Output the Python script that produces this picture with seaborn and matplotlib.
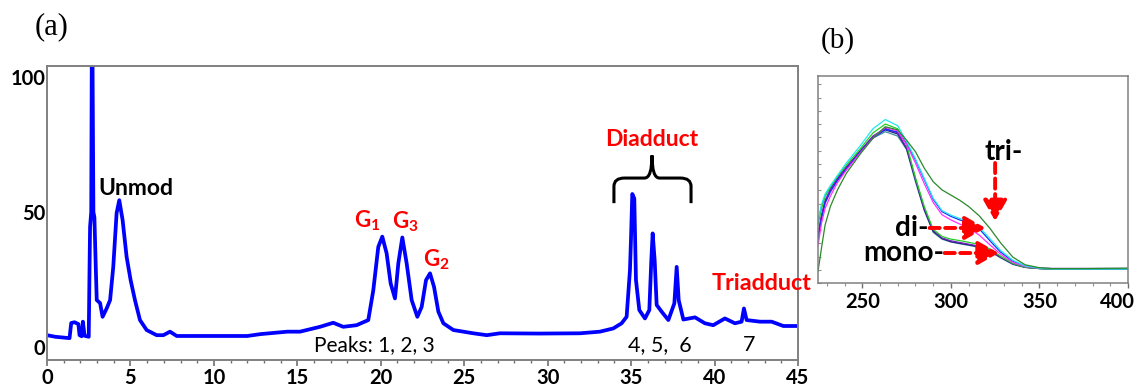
import numpy as np
import pandas as pd
import matplotlib
matplotlib.use("Agg")
import matplotlib.pyplot as plt
from matplotlib.path import Path
from matplotlib.patches import PathPatch
from matplotlib.ticker import MultipleLocator, NullFormatter
from matplotlib.transforms import ScaledTranslation
import seaborn as sns

# (a) chromatogram: retention time (min) vs absorbance (% of max)
rt = [0.0, 0.5, 1.35, 1.45, 1.65, 1.88, 1.95, 2.08, 2.15, 2.25, 2.5, 2.55, 2.58,
      2.65, 2.68, 2.73, 2.78, 2.84, 2.92, 2.98, 3.18, 3.33, 3.58, 3.78, 3.97,
      4.17, 4.33, 4.53, 4.77, 5.01, 5.27, 5.57, 5.97, 6.57, 6.97, 7.37, 7.77,
      12.0, 12.8, 14.4, 15.16, 16.36, 17.15, 17.75, 18.55, 19.25, 19.55, 19.85,
      20.09, 20.35, 20.59, 20.85, 21.05, 21.29, 21.55, 21.85, 22.19, 22.45,
      22.71, 22.95, 23.19, 23.45, 23.75, 24.35, 25.54, 26.35, 27.14, 29.5,
      31.94, 33.13, 33.93, 34.43, 34.73, 34.93, 34.99, 35.07, 35.19, 35.29,
      35.49, 35.83, 36.09, 36.21, 36.29, 36.41, 36.53, 36.83, 37.23, 37.59,
      37.73, 37.85, 38.13, 38.83, 39.42, 39.92, 40.62, 41.22, 41.62, 41.76,
      41.92, 42.72, 43.42, 44.12, 45.0]
absorb = [4.4, 3.8, 3.3, 8.9, 9.2, 8.5, 4.4, 4.0, 9.4, 4.2, 3.8, 30.0, 44.5,
          50.0, 104.0, 104.0, 50.0, 48.0, 30.0, 17.4, 16.3, 11.2, 14.4, 17.4, 29.7,
          49.6, 54.4, 47.0, 33.4, 24.8, 17.4, 10.0, 6.3, 4.4, 4.4, 5.7, 4.1,
          4.1, 4.8, 5.7, 5.7, 7.5, 9.0, 7.5, 8.1, 10.0, 21.0, 37.1,
          40.9, 34.7, 23.6, 18.0, 31.0, 40.6, 31.0, 17.4, 11.2, 14.9,
          24.8, 27.3, 22.3, 13.1, 8.8, 6.3, 5.1, 4.4, 5.1, 5.0,
          5.1, 5.7, 6.9, 8.8, 11.2, 28.5, 39.6, 56.7, 55.0, 24.8,
          13.7, 10.6, 13.7, 32.2, 42.1, 32.2, 15.6, 13.1, 10.0, 16.2,
          29.7, 17.4, 10.2, 11.0, 8.8, 8.1, 10.6, 8.8, 9.4, 14.3,
          10.0, 9.4, 9.4, 7.8, 7.8]

x_ticks_a = [0, 5, 10, 15, 20, 25, 30, 35, 40, 45]
y_ticks_a = [0, 50, 100]

# (b) UV spectra of the peaks: wavelength (nm) vs normalised absorbance
wl = [225, 227, 229, 232, 236, 241, 249, 256, 263, 270, 275, 280, 285, 290,
      295, 300, 305, 310, 316, 322, 328, 335, 342, 350, 357, 375, 400]
mono_teal = [0.30, 0.37, 0.42, 0.46, 0.51, 0.56, 0.635, 0.70, 0.731, 0.71, 0.645,
             0.49, 0.35, 0.245, 0.212, 0.198, 0.19, 0.182, 0.172, 0.152, 0.122,
             0.09, 0.075, 0.07, 0.068, 0.068, 0.068]
mono_navy = [0.22, 0.32, 0.39, 0.45, 0.50, 0.555, 0.64, 0.705, 0.74, 0.72, 0.65,
             0.50, 0.355, 0.25, 0.215, 0.2, 0.192, 0.185, 0.175, 0.155, 0.125,
             0.092, 0.076, 0.07, 0.068, 0.068, 0.068]
mono_lime = [0.28, 0.36, 0.42, 0.465, 0.515, 0.57, 0.65, 0.725, 0.768, 0.745, 0.67,
             0.51, 0.37, 0.26, 0.225, 0.212, 0.205, 0.197, 0.186, 0.165, 0.13,
             0.095, 0.077, 0.07, 0.068, 0.068, 0.068]
mono_purple = [0.24, 0.33, 0.40, 0.45, 0.505, 0.56, 0.64, 0.71, 0.748, 0.725, 0.655,
               0.505, 0.36, 0.255, 0.218, 0.204, 0.196, 0.188, 0.178, 0.158, 0.127,
               0.093, 0.076, 0.07, 0.068, 0.068, 0.068]
di_blue = [0.21, 0.31, 0.385, 0.44, 0.495, 0.55, 0.635, 0.70, 0.742, 0.73, 0.675,
           0.595, 0.50, 0.405, 0.345, 0.322, 0.305, 0.292, 0.262, 0.205, 0.15,
           0.105, 0.082, 0.072, 0.07, 0.07, 0.07]
di_magenta = [0.18, 0.29, 0.36, 0.42, 0.485, 0.545, 0.63, 0.70, 0.752, 0.735, 0.67,
              0.58, 0.48, 0.39, 0.33, 0.305, 0.285, 0.265, 0.232, 0.185, 0.14,
              0.10, 0.08, 0.072, 0.07, 0.07, 0.07]
di_cyan = [0.30, 0.38, 0.43, 0.47, 0.52, 0.58, 0.665, 0.745, 0.79, 0.76, 0.685,
           0.60, 0.505, 0.41, 0.35, 0.328, 0.312, 0.298, 0.27, 0.215, 0.158,
           0.11, 0.083, 0.072, 0.068, 0.068, 0.068]
tri_green = [0.055, 0.17, 0.28, 0.37, 0.45, 0.53, 0.625, 0.70, 0.755, 0.74, 0.69,
             0.635, 0.555, 0.49, 0.45, 0.425, 0.40, 0.37, 0.325, 0.265, 0.195,
             0.125, 0.088, 0.074, 0.07, 0.07, 0.072]

traces = {
    "mono_teal": (mono_teal, "#3f8f96"),
    "mono_navy": (mono_navy, "#1a1a80"),
    "mono_purple": (mono_purple, "#7a20c0"),
    "mono_lime": (mono_lime, "#22d022"),
    "di_blue": (di_blue, "#1030ff"),
    "di_magenta": (di_magenta, "#ff30ff"),
    "di_cyan": (di_cyan, "#20e8f0"),
    "tri_green": (tri_green, "#2a8a2a"),
}
x_ticks_b = [250, 300, 350, 400]

sns.set_style("white")
plt.rcParams["font.family"] = ["Lato", "DejaVu Sans"]
plt.rcParams["mathtext.fontset"] = "custom"
plt.rcParams["mathtext.rm"] = "Lato"
plt.rcParams["mathtext.bf"] = "Lato:bold"
plt.rcParams["text.color"] = "black"
plt.rcParams["xtick.labelcolor"] = "black"
plt.rcParams["ytick.labelcolor"] = "black"

fig = plt.figure(figsize=(11.41, 3.92), dpi=100)
ax = fig.add_axes([0.0412, 0.0816, 0.6582, 0.75])
axb = fig.add_axes([0.7169, 0.278, 0.2717, 0.528])

# ---- panel (a)
sns.lineplot(x=rt, y=absorb, ax=ax, sort=False, estimator=None, color="#0000ff", lw=2.7)
ax.set_xlim(0, 45)
ax.set_ylim(-4.8, 104.1)
ax.set_xticks(x_ticks_a)
ax.set_xticklabels([str(t) for t in x_ticks_a], fontweight="bold", fontsize=14.5)
ax.xaxis.set_minor_locator(MultipleLocator(1))
ax.set_yticks(y_ticks_a)
ax.set_yticklabels([str(t) for t in y_ticks_a], fontweight="bold", fontsize=14.5)
ax.tick_params(axis="x", which="major", direction="out", length=4, width=1.2,
               color="#707070", labelcolor="black", pad=2, bottom=True)
ax.tick_params(axis="x", which="minor", direction="out", length=2.5, width=1,
               color="#707070", bottom=True)
ax.tick_params(axis="y", length=0, pad=1, labelcolor="black")
for s in ax.spines.values():
    s.set_color("#808080")
    s.set_linewidth(1.4)
ax.set_xlabel("")
ax.set_ylabel("")

ax.text(5.3, 58.9, "Unmod", fontsize=16.5, fontweight="bold", ha="center", va="center")
ax.text(18.4, 46.8, r"G$_\mathbf{1}$", color="red", fontsize=16, fontweight="bold",
        ha="left", va="center")
ax.text(20.7, 46.3, r"G$_\mathbf{3}$", color="red", fontsize=16, fontweight="bold",
        ha="left", va="center")
ax.text(22.55, 32.2, r"G$_\mathbf{2}$", color="red", fontsize=16, fontweight="bold",
        ha="left", va="center")
ax.text(36.25, 76.7, "Diadduct", color="red", fontsize=16.5, fontweight="bold",
        ha="center", va="center")
ax.text(42.8, 23.7, "Triadduct", color="red", fontsize=16.8, fontweight="bold",
        ha="center", va="center")
ax.text(19.6, 0.7, "Peaks: 1, 2, 3", fontsize=15, ha="center", va="center")
ax.text(36.7, 0.7, "4, 5,  6", fontsize=15.5, ha="center", va="center")
ax.text(42.1, 0.7, "7", fontsize=15.5, ha="center", va="center")

# curly brace over the diadduct peaks
brace = Path(
    [(33.97, 53.3), (33.97, 59.5), (33.97, 62.6), (34.6, 62.6), (35.8, 62.6),
     (36.25, 62.6), (36.25, 71.0), (36.25, 62.6), (36.7, 62.6), (37.95, 62.6),
     (38.59, 62.6), (38.59, 59.5), (38.59, 53.3)],
    [Path.MOVETO, Path.LINETO, Path.CURVE3, Path.CURVE3, Path.LINETO,
     Path.CURVE3, Path.CURVE3, Path.CURVE3, Path.CURVE3, Path.LINETO,
     Path.CURVE3, Path.CURVE3, Path.LINETO])
ax.add_patch(PathPatch(brace, fill=False, lw=2.2, color="black", capstyle="butt"))

# ---- panel (b)
rows = []
for name, (vals, col) in traces.items():
    for w, v in zip(wl, vals):
        rows.append({"wl": w, "abs": v, "trace": name})
spec = pd.DataFrame(rows)
palette = {name: col for name, (vals, col) in traces.items()}
sns.lineplot(data=spec, x="wl", y="abs", hue="trace", palette=palette, ax=axb,
             sort=False, estimator=None, lw=0.9, legend=False)
axb.set_xlim(225, 400)
axb.set_ylim(0, 1)
axb.set_xticks(x_ticks_b)
axb.set_xticklabels([str(t) for t in x_ticks_b], fontweight="bold", fontsize=14.5)
axb.xaxis.set_minor_locator(MultipleLocator(10))
axb.yaxis.set_major_locator(MultipleLocator(0.064))
axb.yaxis.set_major_formatter(NullFormatter())
axb.tick_params(axis="x", which="major", direction="out", length=3.5, width=1,
                color="#707070", labelcolor="black", pad=3, bottom=True)
axb.tick_params(axis="x", which="minor", direction="out", length=2.2, width=0.8,
                color="#909090", bottom=True)
axb.tick_params(axis="y", which="major", direction="in", length=2, width=0.8,
                color="#909090", left=True)
for s in axb.spines.values():
    s.set_color("#808080")
    s.set_linewidth(1.1)
axb.set_xlabel("")
axb.set_ylabel("")
# last label sits a little inside the figure edge
last = axb.get_xticklabels()[-1]
last.set_ha("right")
last.set_transform(last.get_transform() + ScaledTranslation(0.07, 0, fig.dpi_scale_trans))

axb.text(330, 0.633, "tri-", fontsize=20, fontweight="bold", ha="center", va="center")
axb.text(287.5, 0.266, "di-", fontsize=20, fontweight="bold", ha="right", va="center")
axb.text(296, 0.145, "mono-", fontsize=20, fontweight="bold", ha="right", va="center")
arrow_kw = dict(arrowstyle="-|>,head_length=0.7,head_width=0.4", color="red", lw=2.8,
                linestyle=(0, (2.6, 1.4)), mutation_scale=18, shrinkA=0, shrinkB=0)
axb.annotate("", xy=(325, 0.30), xytext=(325, 0.58), arrowprops=arrow_kw)
axb.annotate("", xy=(319.5, 0.266), xytext=(288, 0.266), arrowprops=arrow_kw)
axb.annotate("", xy=(327, 0.145), xytext=(296.5, 0.145), arrowprops=arrow_kw)

fig.text(52 / 1141, 1 - 27 / 392, "(a)", family="Liberation Serif", fontsize=22,
         ha="center", va="center")
fig.text(838 / 1141, 1 - 41 / 392, "(b)", family="Liberation Serif", fontsize=21,
         ha="center", va="center")

fig.savefig("out.png", dpi=100)
